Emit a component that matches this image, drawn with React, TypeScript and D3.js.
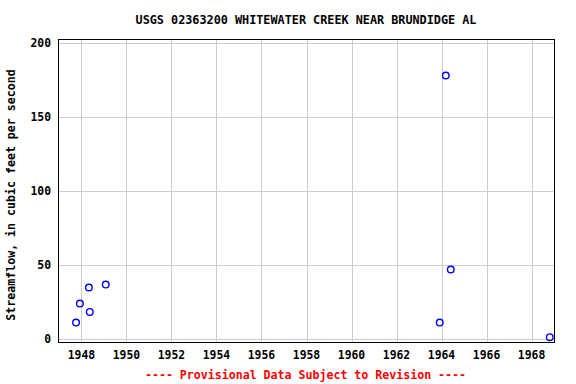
import React from "react";
import * as d3 from "d3";

const years = [1947.76, 1947.93, 1948.33, 1948.37, 1949.08, 1963.92, 1964.19, 1964.41, 1968.81];
const flows = [10.8, 23.7, 34.6, 18.0, 36.6, 10.8, 178.3, 46.8, 0.9];
const xTicks = [1948, 1950, 1952, 1954, 1956, 1958, 1960, 1962, 1964, 1966, 1968];
const yTicks = [0, 50, 100, 150, 200];
const title = "USGS 02363200 WHITEWATER CREEK NEAR BRUNDIDGE AL";
const yLabel = "Streamflow, in cubic feet per second";
const footer = "---- Provisional Data Subject to Revision ----";

const W = 576, H = 384;
const L = 58.5, R = 554.5, T = 39.5, B = 342.5;
const font = "'DejaVu Sans Mono', monospace";

export default function App() {
  const x = d3.scaleLinear().domain([1946.98, 1969.02]).range([L, R]);
  const y = d3.scaleLinear().domain([-2.7, 202.7]).range([B, T]);
  return (
    <svg width={W} height={H} style={{ position: "absolute", left: 0, top: 0 }}>
      <rect x={0} y={0} width={W} height={H} fill="#fff" />
      {xTicks.map((t) => (
        <line key={"gx" + t} x1={Math.round(x(t)) + 0.5} x2={Math.round(x(t)) + 0.5} y1={T} y2={B} stroke="#cccccc" strokeWidth={1} />
      ))}
      {yTicks.map((t) => (
        <line key={"gy" + t} x1={L} x2={R} y1={Math.round(y(t)) + 0.5} y2={Math.round(y(t)) + 0.5} stroke="#cccccc" strokeWidth={1} />
      ))}
      <rect x={L} y={T} width={R - L} height={B - T} fill="none" stroke="#000" strokeWidth={1} />
      {xTicks.map((t) => (
        <text key={"tx" + t} x={x(t)} y={359} textAnchor="middle" fontFamily={font} fontWeight="bold" fontSize={11.4} fill="#000">{t}</text>
      ))}
      {yTicks.map((t) => (
        <text key={"ty" + t} x={51} y={y(t) + 4} textAnchor="end" fontFamily={font} fontWeight="bold" fontSize={11.4} fill="#000">{t}</text>
      ))}
      <text x={306} y={24} textAnchor="middle" fontFamily={font} fontWeight="bold" fontSize={11.8} fill="#000">{title}</text>
      <text transform={`translate(15,195) rotate(-90)`} textAnchor="middle" fontFamily={font} fontWeight="bold" fontSize={11.6} fill="#000">{yLabel}</text>
      <text x={305.5} y={379} textAnchor="middle" fontFamily={font} fontWeight="bold" fontSize={11.6} fill="#ff0000">{footer}</text>
      {years.map((yr, i) => (
        <circle key={"p" + i} cx={x(yr)} cy={y(flows[i])} r={3.3} fill="none" stroke="#0000ff" strokeWidth={1.4} />
      ))}
    </svg>
  );
}
